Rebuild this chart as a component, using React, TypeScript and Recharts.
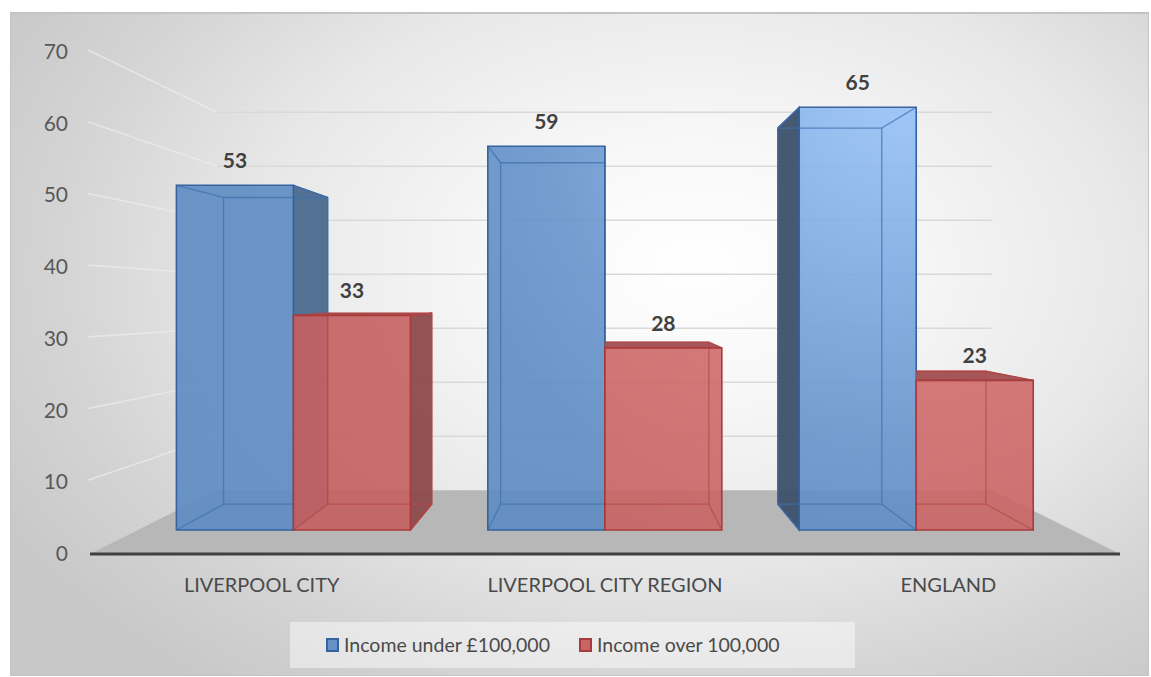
import React from "react";
import {
  BarChart,
  Bar,
  XAxis,
  YAxis,
  CartesianGrid,
  Legend,
  LabelList,
} from "recharts";

const regions = ["LIVERPOOL CITY", "LIVERPOOL CITY REGION", "ENGLAND"];
const incomeUnder = [53, 59, 65];
const incomeOver = [33, 28, 23];
const yTicks = [0, 10, 20, 30, 40, 50, 60, 70];
const seriesNames = ["Income under £100,000", "Income over 100,000"];

const data = regions.map((region, i) => ({
  region,
  under: incomeUnder[i],
  over: incomeOver[i],
}));

const W = 1151;
const H = 677;
const PLOT_BOTTOM = 554;

// perspective: everything shrinks toward a vanishing point as it goes back
const VP_X = 604;
const VP_Y = 296;
const DEPTH_BAR_FRONT = 0.907;
const DEPTH_BAR_BACK = 0.807;
const DEPTH_WALL = 0.753;

const FONT = "Lato, 'Open Sans', sans-serif";

type Pt = [number, number];
const proj = (x: number, y: number, s: number): Pt => [
  VP_X + s * (x - VP_X),
  VP_Y + s * (y - VP_Y),
];
const pts = (arr: Pt[]) => arr.map((p) => `${p[0]},${p[1]}`).join(" ");

const STYLES = [
  {
    face: "url(#blueFace)",
    swatch: "#6592c6",
    edge: "#3563a0",
    inner: "#3f70b0",
    sideRight: "#4b6b8e",
    sideLeft: "#3c5069",
    top: "#4b6b8e",
  },
  {
    face: "url(#redFace)",
    swatch: "#c96565",
    edge: "#a83b3b",
    inner: "#b44848",
    sideRight: "#8d4a4c",
    sideLeft: "#8d4a4c",
    top: "#a65656",
  },
];

function Box3D(props: any) {
  const { x, y, width, height, index, series } = props;
  const st = STYLES[series];
  const x0 = x;
  const x1 = x + width;
  const yt = y;
  const yb = y + height;

  const fTL = proj(x0, yt, DEPTH_BAR_FRONT);
  const fTR = proj(x1, yt, DEPTH_BAR_FRONT);
  const fBR = proj(x1, yb, DEPTH_BAR_FRONT);
  const fBL = proj(x0, yb, DEPTH_BAR_FRONT);
  const bTL = proj(x0, yt, DEPTH_BAR_BACK);
  const bTR = proj(x1, yt, DEPTH_BAR_BACK);
  const bBR = proj(x1, yb, DEPTH_BAR_BACK);
  const bBL = proj(x0, yb, DEPTH_BAR_BACK);

  const backShiftsLeft = x + width / 2 > VP_X;
  const side = backShiftsLeft ? [fTL, bTL, bBL, fBL] : [fTR, bTR, bBR, fBR];
  const sideFill = backShiftsLeft ? st.sideLeft : st.sideRight;
  const topVisible = yt > VP_Y;

  // the second bar sits behind its neighbour's front face on that side
  const clipId = `box-clip-${series}-${index}`;
  const needsClip = series === 1 && backShiftsLeft;

  return (
    <g>
      {needsClip && (
        <defs>
          <clipPath id={clipId}>
            <rect x={fTL[0]} y={0} width={W} height={H} />
          </clipPath>
        </defs>
      )}
      <g clipPath={needsClip ? `url(#${clipId})` : undefined}>
        <polygon
          points={pts(side)}
          fill={sideFill}
          fillOpacity={0.95}
          stroke={st.edge}
          strokeWidth={1.2}
        />
        {topVisible && (
          <polygon
            points={pts([fTL, fTR, bTR, bTL])}
            fill={st.top}
            stroke={st.edge}
            strokeWidth={1}
          />
        )}
      </g>
      <polygon points={pts([fTL, fTR, fBR, fBL])} fill={st.face} fillOpacity={0.9} />
      <g
        clipPath={needsClip ? `url(#${clipId})` : undefined}
        stroke={st.inner}
        strokeOpacity={0.75}
        strokeWidth={1.3}
        fill="none"
      >
        <polygon points={pts([bTL, bTR, bBR, bBL])} />
        <polyline points={pts([fTL, bTL])} />
        <polyline points={pts([fTR, bTR])} />
        <polyline points={pts([fBR, bBR])} />
        <polyline points={pts([fBL, bBL])} />
      </g>
      <polygon
        points={pts([fTL, fTR, fBR, fBL])}
        fill="none"
        stroke={st.edge}
        strokeWidth={1.6}
      />
    </g>
  );
}

const renderValueLabel = (props: any) => {
  const { x, y, width, value } = props;
  const [lx, ly] = proj(Number(x) + Number(width) / 2, Number(y), DEPTH_BAR_FRONT);
  return (
    <text
      x={lx}
      y={ly - 17}
      textAnchor="middle"
      fontFamily={FONT}
      fontWeight={700}
      fontSize={21}
      fill="#404040"
    >
      {value}
    </text>
  );
};

// floor plus gridlines bent along the left wall and across the back wall
const renderGridLine = (props: any) => {
  const { x1, x2, y1, key } = props;
  const [bx1, by] = proj(x1, y1, DEPTH_WALL);
  const [bx2] = proj(x2, y1, DEPTH_WALL);
  if (y1 >= PLOT_BOTTOM - 0.5) {
    return (
      <polygon
        key={key}
        points={`${x1},${y1} ${bx1},${by} ${bx2},${by} ${x2},${y1}`}
        fill="#b7b7b7"
      />
    );
  }
  return (
    <g key={key}>
      <line
        x1={x1 - 2}
        y1={y1 - 2}
        x2={bx1}
        y2={by}
        stroke="#ececec"
        strokeOpacity={0.7}
        strokeWidth={1.6}
      />
      <line x1={bx1} y1={by} x2={bx2} y2={by} stroke="#d9d9d9" strokeWidth={1.6} />
    </g>
  );
};

const YTick = (props: any) => {
  const { y, payload } = props;
  return (
    <text x={68} y={y + 7} textAnchor="end" fontFamily={FONT} fontSize={21} fill="#595959">
      {payload.value}
    </text>
  );
};

const XTick = (props: any) => {
  const { x, payload } = props;
  return (
    <text
      x={x}
      y={PLOT_BOTTOM + 38}
      textAnchor="middle"
      fontFamily={FONT}
      fontSize={20}
      fill="#4a4a4a"
    >
      {payload.value}
    </text>
  );
};

const renderLegend = (props: any) => {
  const items = [...(props.payload || [])].sort(
    (a: any, b: any) => seriesNames.indexOf(a.value) - seriesNames.indexOf(b.value)
  );
  return (
    <div
      style={{
        width: "100%",
        height: "100%",
        boxSizing: "border-box",
        background: "rgba(255,255,255,0.45)",
        display: "flex",
        alignItems: "center",
        paddingLeft: 36,
        fontFamily: FONT,
      }}
    >
      {items.map((entry: any) => {
        const st = STYLES[seriesNames.indexOf(entry.value)];
        return (
          <div
            key={entry.value}
            style={{ display: "flex", alignItems: "center", marginRight: 29 }}
          >
            <span
              style={{
                width: 9,
                height: 10,
                background: st.swatch,
                border: `2px solid ${st.edge}`,
                marginRight: 5,
              }}
            />
            <span style={{ fontSize: 19.5, color: "#4a4a4a", lineHeight: "24px" }}>
              {entry.value}
            </span>
          </div>
        );
      })}
    </div>
  );
};

export default function App() {
  return (
    <div
      style={{
        position: "absolute",
        left: 0,
        top: 0,
        width: W,
        height: H,
        background: "#ffffff",
        overflow: "hidden",
      }}
    >
      <div
        style={{
          position: "absolute",
          left: 10,
          top: 12,
          width: 1137,
          height: 661,
          border: "1px solid #c4c4c4",
          borderTopWidth: 2,
          background:
            "radial-gradient(ellipse 70% 80% at 60% 38%, #ffffff 0%, #f7f7f7 25%, #e8e8e8 55%, #d4d4d4 80%, #c8c8c8 100%)",
        }}
      />
      <div style={{ position: "absolute", left: 0, top: 0 }}>
        <BarChart
          width={W}
          height={H}
          data={data}
          margin={{ top: 52, right: 31, bottom: 93, left: 30 }}
          barCategoryGap="12.4%"
          barGap={0}
        >
          <defs>
            <radialGradient id="blueFace" gradientUnits="userSpaceOnUse" cx={900} cy={80} r={480}>
              <stop offset="0" stopColor="#9ac5fa" />
              <stop offset="0.4" stopColor="#7eabe2" />
              <stop offset="0.75" stopColor="#6794cb" />
              <stop offset="1" stopColor="#5e8bc3" />
            </radialGradient>
            <radialGradient id="redFace" gradientUnits="userSpaceOnUse" cx={900} cy={80} r={600}>
              <stop offset="0" stopColor="#dc7676" />
              <stop offset="1" stopColor="#c56060" />
            </radialGradient>
          </defs>
          <CartesianGrid vertical={false} horizontal={renderGridLine} />
          <XAxis
            dataKey="region"
            axisLine={{ stroke: "#404040", strokeWidth: 3 }}
            tickLine={false}
            tick={<XTick />}
            interval={0}
          />
          <YAxis
            domain={[0, 70]}
            ticks={yTicks}
            width={60}
            axisLine={false}
            tickLine={false}
            tick={<YTick />}
          />
          <Legend
            layout="horizontal"
            verticalAlign="middle"
            align="center"
            wrapperStyle={{ left: 290, top: 622, width: 565, height: 46 }}
            content={renderLegend}
          />
          <Bar
            dataKey="under"
            name={seriesNames[0]}
            fill={STYLES[0].swatch}
            isAnimationActive={false}
            shape={(p: any) => <Box3D {...p} series={0} />}
          >
            <LabelList dataKey="under" content={renderValueLabel} />
          </Bar>
          <Bar
            dataKey="over"
            name={seriesNames[1]}
            fill={STYLES[1].swatch}
            isAnimationActive={false}
            shape={(p: any) => <Box3D {...p} series={1} />}
          >
            <LabelList dataKey="over" content={renderValueLabel} />
          </Bar>
        </BarChart>
      </div>
    </div>
  );
}
